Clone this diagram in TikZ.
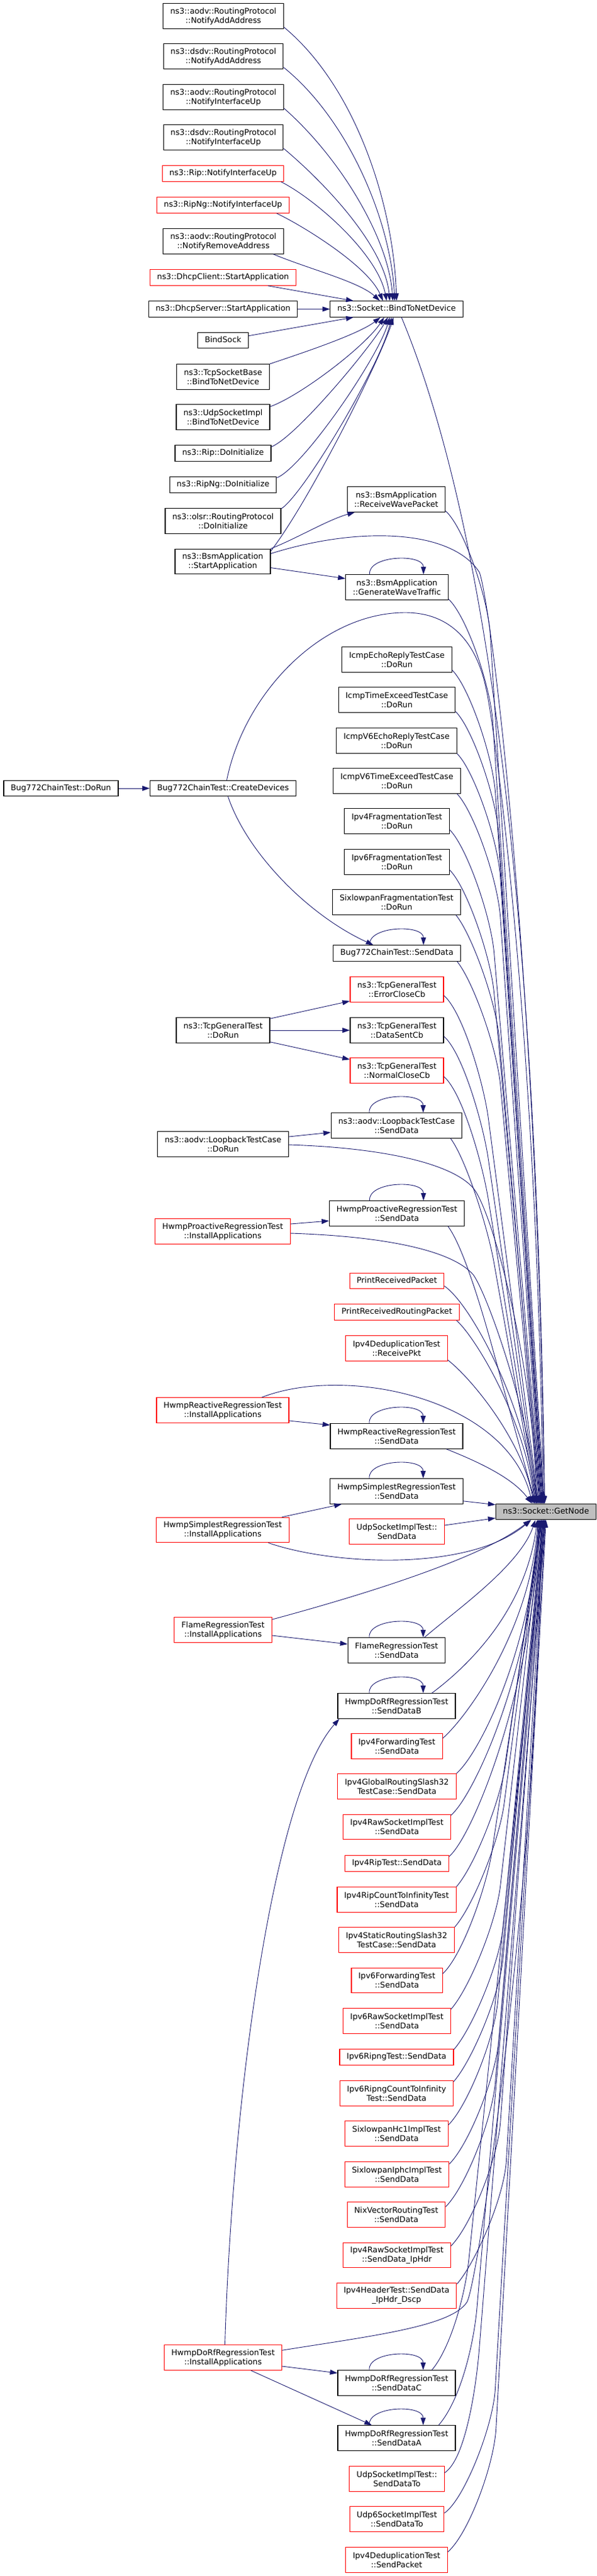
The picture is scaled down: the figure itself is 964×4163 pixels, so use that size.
\documentclass[tikz,border=0pt]{standalone}
\usepackage{fontspec}
\setmainfont{DejaVu Sans}[Ligatures={NoCommon}]
\usetikzlibrary{arrows.meta,calc}
\definecolor{edgeblue}{HTML}{191970}
\definecolor{nodegray}{HTML}{BFBFBF}
\definecolor{nodered}{HTML}{FF0000}
\newcommand\gnfan[4]{%
  \path #1 coordinate (fa) ++#2 coordinate (fb);
  \path #3 coordinate (ft);
  \draw[edge] (fa) .. controls +#4 and ($(fb)!-60pt!(ft)$) .. (fb) -- (ft);}
\newcommand\nodeloop[1]{\draw[edge] ($(#1.north)+(-44,0)$) .. controls +(-3,-31) and +(0,-34) .. ($(#1.north)+(43,0)$);}
\begin{document}
\begin{tikzpicture}[x=1pt,y=-1pt,
  box/.style={draw=black,line width=1.1pt,fill=white,font=\fontsize{12.8}{15}\selectfont,align=center,inner xsep=11.5pt,inner ysep=0pt},
  redbox/.style={box,draw=nodered},
  graybox/.style={box,fill=nodegray},
  oneline/.style={minimum height=25.5pt,text height=9.7pt,text depth=3.1pt},
  twoline/.style={minimum height=40.5pt},
  edge/.style={draw=edgeblue,line width=0.9pt,-{Triangle[length=12pt,width=8pt]}}]
\fill[white] (0,0) rectangle (964,4163);
\useasboundingbox (0,0) rectangle (964,4163);
% ---- nodes
\node[box,twoline] (n1) at (361,26) {ns3::aodv::RoutingProtocol\\::NotifyAddAddress};
\node[box,twoline] (n2) at (361,91) {ns3::dsdv::RoutingProtocol\\::NotifyAddAddress};
\node[box,twoline] (n3) at (361,157) {ns3::aodv::RoutingProtocol\\::NotifyInterfaceUp};
\node[box,twoline] (n4) at (361,222) {ns3::dsdv::RoutingProtocol\\::NotifyInterfaceUp};
\node[redbox,oneline] (n5) at (360.5,280.5) {ns3::Rip::NotifyInterfaceUp};
\node[redbox,oneline] (n6) at (360.5,331.5) {ns3::RipNg::NotifyInterfaceUp};
\node[box,twoline] (n7) at (361,390) {ns3::aodv::RoutingProtocol\\::NotifyRemoveAddress};
\node[redbox,oneline] (n8) at (360.5,448.5) {ns3::DhcpClient::StartApplication};
\node[box,oneline] (n9) at (360.5,499.5) {ns3::DhcpServer::StartApplication};
\node[box,oneline] (btnd) at (641,499.5) {ns3::Socket::BindToNetDevice};
\node[box,oneline] (bindsock) at (360.5,550) {BindSock};
\node[box,twoline] (tcpsb) at (360.5,609) {ns3::TcpSocketBase\\::BindToNetDevice};
\node[box,twoline] (udpsi) at (360.5,674) {ns3::UdpSocketImpl\\::BindToNetDevice};
\node[box,oneline] (ripinit) at (360.5,732.5) {ns3::Rip::DoInitialize};
\node[box,oneline] (ripnginit) at (360.5,783.5) {ns3::RipNg::DoInitialize};
\node[box,twoline] (olsrinit) at (360.5,842) {ns3::olsr::RoutingProtocol\\::DoInitialize};
\node[box,twoline] (bsmstart) at (360,907.5) {ns3::BsmApplication\\::StartApplication};
\node[box,twoline] (bsmrecv) at (640.5,807) {ns3::BsmApplication\\::ReceiveWavePacket};
\node[box,twoline] (bsmgen) at (641.5,949) {ns3::BsmApplication\\::GenerateWaveTraffic};
\node[box,twoline] (icmpecho) at (641.5,1066) {IcmpEchoReplyTestCase\\::DoRun};
\node[box,twoline] (icmptime) at (641.5,1131) {IcmpTimeExceedTestCase\\::DoRun};
\node[box,twoline] (icmpv6echo) at (641,1197) {IcmpV6EchoReplyTestCase\\::DoRun};
\node[box,twoline] (icmpv6time) at (641.5,1262) {IcmpV6TimeExceedTestCase\\::DoRun};
\node[box,twoline] (ipv4frag) at (641.5,1327) {Ipv4FragmentationTest\\::DoRun};
\node[box,twoline] (ipv6frag) at (641.5,1393) {Ipv6FragmentationTest\\::DoRun};
\node[box,oneline] (bugdorun) at (98.5,1274) {Bug772ChainTest::DoRun};
\node[box,oneline] (bugcreate) at (360.5,1274) {Bug772ChainTest::CreateDevices};
\node[box,twoline] (sixfrag) at (641,1458) {SixlowpanFragmentationTest\\::DoRun};
\node[box,oneline] (bugsend) at (641.5,1540.5) {Bug772ChainTest::SendData};
\node[redbox,twoline] (tcperr) at (641.5,1599) {ns3::TcpGeneralTest\\::ErrorCloseCb};
\node[box,twoline] (tcpdorun) at (360.5,1665) {ns3::TcpGeneralTest\\::DoRun};
\node[box,twoline] (tcpsent) at (641.5,1665) {ns3::TcpGeneralTest\\::DataSentCb};
\node[redbox,twoline] (tcpnormal) at (641.5,1730) {ns3::TcpGeneralTest\\::NormalCloseCb};
\node[box,twoline] (loopsend) at (641,1819) {ns3::aodv::LoopbackTestCase\\::SendData};
\node[box,twoline] (loopdorun) at (360.5,1849) {ns3::aodv::LoopbackTestCase\\::DoRun};
\node[box,twoline] (proactsend) at (641.5,1961) {HwmpProactiveRegressionTest\\::SendData};
\node[redbox,twoline] (proactinst) at (360,1990) {HwmpProactiveRegressionTest\\::InstallApplications};
\node[redbox,oneline] (printpkt) at (641.5,2070) {PrintReceivedPacket};
\node[redbox,oneline] (printrpkt) at (641.5,2120.5) {PrintReceivedRoutingPacket};
\node[redbox,twoline] (deduprecv) at (641,2179) {Ipv4DeduplicationTest\\::ReceivePkt};
\node[redbox,twoline] (reactinst) at (360,2279) {HwmpReactiveRegressionTest\\::InstallApplications};
\node[box,twoline] (reactsend) at (641,2321) {HwmpReactiveRegressionTest\\::SendData};
\node[box,twoline] (simplsend) at (641,2410) {HwmpSimplestRegressionTest\\::SendData};
\node[graybox,oneline] (gn) at (882.5,2443) {ns3::Socket::GetNode};
\node[redbox,twoline] (simplinst) at (360,2472.5) {HwmpSimplestRegressionTest\\::InstallApplications};
\node[redbox,twoline] (udpsend) at (641.5,2475) {UdpSocketImplTest::\\SendData};
\node[redbox,twoline] (flameinst) at (360.5,2634) {FlameRegressionTest\\::InstallApplications};
\node[box,twoline] (flamesend) at (641,2667) {FlameRegressionTest\\::SendData};
\node[box,twoline] (dorfb) at (641,2757) {HwmpDoRfRegressionTest\\::SendDataB};
\node[redbox,twoline] (ipv4fwd) at (641.5,2822) {Ipv4ForwardingTest\\::SendData};
\node[redbox,twoline] (ipv4glob) at (641.5,2887) {Ipv4GlobalRoutingSlash32\\TestCase::SendData};
\node[redbox,twoline] (ipv4raw) at (641.5,2952.5) {Ipv4RawSocketImplTest\\::SendData};
\node[redbox,oneline] (ipv4rip) at (641.5,3011.5) {Ipv4RipTest::SendData};
\node[redbox,twoline] (ipv4ripinf) at (641,3070) {Ipv4RipCountToInfinityTest\\::SendData};
\node[redbox,twoline] (ipv4static) at (641,3135) {Ipv4StaticRoutingSlash32\\TestCase::SendData};
\node[redbox,twoline] (ipv6fwd) at (641.5,3200.5) {Ipv6ForwardingTest\\::SendData};
\node[redbox,twoline] (ipv6raw) at (641.5,3266) {Ipv6RawSocketImplTest\\::SendData};
\node[redbox,oneline] (ipv6ripng) at (641,3324.5) {Ipv6RipngTest::SendData};
\node[redbox,twoline] (ipv6ripnginf) at (641,3383) {Ipv6RipngCountToInfinity\\Test::SendData};
\node[redbox,twoline] (sixhc1) at (641,3448) {SixlowpanHc1ImplTest\\::SendData};
\node[redbox,twoline] (sixiphc) at (641.5,3514) {SixlowpanIphcImplTest\\::SendData};
\node[redbox,twoline] (nix) at (640.5,3579) {NixVectorRoutingTest\\::SendData};
\node[redbox,twoline] (ipv4rawhdr) at (641.5,3644.5) {Ipv4RawSocketImplTest\\::SendData\_IpHdr};
\node[redbox,twoline] (ipv4hdr) at (641,3710) {Ipv4HeaderTest::SendData\\\_IpHdr\_Dscp};
\node[redbox,twoline] (dorfinst) at (360.5,3810) {HwmpDoRfRegressionTest\\::InstallApplications};
\node[box,twoline] (dorfc) at (641,3851) {HwmpDoRfRegressionTest\\::SendDataC};
\node[box,twoline] (dorfa) at (641,3940) {HwmpDoRfRegressionTest\\::SendDataA};
\node[redbox,twoline] (udpsendto) at (641.5,4006) {UdpSocketImplTest::\\SendDataTo};
\node[redbox,twoline] (udp6sendto) at (641.5,4071) {Udp6SocketImplTest\\::SendDataTo};
\node[redbox,twoline] (dedupsend) at (641,4137) {Ipv4DeduplicationTest\\::SendPacket};
% ---- edges into BindToNetDevice
\draw[edge] ($(n1.south east)+(0,-3)$) .. controls (575,140) and (636,330) .. (btnd.north);
\draw[edge] ($(n2.south east)+(0,-3)$) .. controls (565,195) and (632,360) .. ($(btnd.north)+(-3,0)$);
\draw[edge] ($(n3.south east)+(0,-3)$) .. controls (550,255) and (628,385) .. ($(btnd.north)+(-6,0)$);
\draw[edge] ($(n4.south east)+(0,-3)$) .. controls (530,300) and (622,400) .. ($(btnd.north)+(-11,0)$);
\draw[edge] ($(n5.south east)+(-5,0)$) .. controls (510,322) and (610,410) .. ($(btnd.north)+(-16,0)$);
\draw[edge] ($(n6.south east)+(-21,0)$) .. controls (490,365) and (595,430) .. ($(btnd.north)+(-22,0)$);
\draw[edge] ($(n7.south east)+(-17,0)$) .. controls (500,435) and (580,455) .. ($(btnd.north)+(-27,0)$);
\draw[edge] ($(n8.south east)+(-46,0)$) -- ($(btnd.north west)+(38,0)$);
\draw[edge] (n9.east) -- (btnd.west);
\draw[edge] ($(bindsock.north east)+(0,6)$) -- ($(btnd.south west)+(38,0)$);
\draw[edge] (tcpsb.north east) .. controls (490,570) and (580,540) .. ($(btnd.south)+(-26,0)$);
\draw[edge] ($(udpsi.north east)+(0,4)$) .. controls (485,640) and (590,560) .. ($(btnd.south)+(-20,0)$);
\draw[edge] ($(ripinit.north east)+(0,3)$) .. controls (480,705) and (600,560) .. ($(btnd.south)+(-14,0)$);
\draw[edge] ($(ripnginit.north east)+(0,2)$) .. controls (490,755) and (610,580) .. ($(btnd.south)+(-11,0)$);
\draw[edge] ($(olsrinit.north east)+(0,1)$) .. controls (490,800) and (615,590) .. ($(btnd.south)+(-8,0)$);
\draw[edge] ($(bsmstart.north east)+(0,4)$) .. controls (500,810) and (615,580) .. ($(btnd.south)+(-5,0)$);
% ---- other direct edges
\draw[edge] (bsmstart.north east) .. controls (480,870) and (530,840) .. ($(bsmrecv.south west)+(13,0)$);
\draw[edge] ($(bsmstart.east)+(0,10)$) -- ($(bsmgen.west)+(0,-14)$);
\draw[edge] (bugdorun.east) -- (bugcreate.west);
\draw[edge] ($(bugcreate.south)+(8,0)$) .. controls (400,1380) and (500,1480) .. ($(bugsend.north)+(-38,0)$);
\draw[edge] ($(tcpdorun.north east)+(0,2)$) -- ($(tcperr.south west)+(0,-2)$);
\draw[edge] (tcpdorun.east) -- (tcpsent.west);
\draw[edge] ($(tcpdorun.south east)+(0,-2)$) -- ($(tcpnormal.north west)+(0,3)$);
\draw[edge] ($(loopdorun.east)+(0,-12)$) -- ($(loopsend.west)+(0,11)$);
\draw[edge] ($(proactinst.east)+(0,-12)$) -- ($(proactsend.west)+(0,12)$);
\draw[edge] ($(reactinst.east)+(0,17)$) -- ($(reactsend.west)+(0,-18)$);
\draw[edge] ($(simplinst.north east)+(-12,0)$) -- ($(simplsend.south west)+(19,0)$);
\draw[edge] ($(flameinst.east)+(0,9)$) -- ($(flamesend.west)+(0,-10)$);
\draw[edge] ($(dorfinst.north)+(3,0)$) .. controls (375,3400) and (440,2900) .. ($(dorfb.south west)+(3,0)$);
\draw[edge] ($(dorfinst.east)+(0,14)$) -- ($(dorfc.west)+(0,-16)$);
\draw[edge] ($(dorfinst.south)+(45,0)$) -- ($(dorfa.north)+(-40,0)$);
% ---- self loops
\nodeloop{bsmgen}
\nodeloop{bugsend}
\nodeloop{loopsend}
\nodeloop{proactsend}
\nodeloop{reactsend}
\nodeloop{simplsend}
\nodeloop{flamesend}
\nodeloop{dorfb}
\nodeloop{dorfc}
\nodeloop{dorfa}
% ---- edges into GetNode from above
\draw[edge] ($(btnd.south)+(8,0)$) .. controls (760,780) and (865,1300) .. ($(gn.north)+(-2,0)$);
\draw[edge] ($(bsmstart.north east)+(0,8)$) .. controls (580,850) and (730,855) .. (775,925) .. controls (795,980) and (870,1600) .. ($(gn.north)+(-3,0)$);
\gnfan{($(bsmrecv.south east)+(0,-2)$)}{(72,200)}{($(gn.north)+(-3,0)$)}{(30,28)}
\gnfan{($(bsmgen.south east)+(0,-2)$)}{(72,200)}{($(gn.north)+(-4,0)$)}{(30,28)}
\draw[edge] ($(bugcreate.north)+(6,0)$) .. controls (395,1120) and (520,990) .. (655,990) .. controls (730,990) and (770,1040) .. (785,1110) .. controls (800,1170) and (870,1700) .. ($(gn.north)+(-5,0)$);
\gnfan{($(icmpecho.south east)+(0,-4)$)}{(70,200)}{($(gn.north)+(-5,0)$)}{(28,28)}
\gnfan{($(icmptime.south east)+(0,-2)$)}{(70,200)}{($(gn.north)+(-6,0)$)}{(28,28)}
\gnfan{(icmpv6echo.south east)}{(70,200)}{($(gn.north)+(-7,0)$)}{(28,28)}
\gnfan{($(icmpv6time.south east)+(-6,0)$)}{(70,200)}{($(gn.north)+(-8,0)$)}{(28,30)}
\gnfan{($(ipv4frag.south east)+(0,-7)$)}{(72,200)}{($(gn.north)+(-8,0)$)}{(28,28)}
\gnfan{($(ipv6frag.south east)+(0,-8)$)}{(72,200)}{($(gn.north)+(-9,0)$)}{(28,28)}
\gnfan{($(sixfrag.south east)+(-8,0)$)}{(70,200)}{($(gn.north)+(-10,0)$)}{(26,32)}
\gnfan{($(bugsend.south east)+(-6,0)$)}{(70,200)}{($(gn.north)+(-11,0)$)}{(26,32)}
\gnfan{($(tcperr.south east)+(0,-11)$)}{(72,200)}{($(gn.north)+(-12,0)$)}{(30,26)}
\gnfan{($(tcpsent.south east)+(0,-11)$)}{(72,200)}{($(gn.north)+(-13,0)$)}{(30,26)}
\gnfan{($(tcpnormal.south east)+(0,-11)$)}{(72,200)}{($(gn.north)+(-14,0)$)}{(30,26)}
\draw[edge] ($(loopdorun.east)+(0,1)$) .. controls (620,1855) and (730,1880) .. (765,1920) .. controls (795,1955) and (862,2200) .. ($(gn.north)+(-15,0)$);
\gnfan{($(loopsend.south east)+(-19,0)$)}{(70,200)}{($(gn.north)+(-15,0)$)}{(24,32)}
\draw[edge] ($(proactinst.east)+(0,3)$) .. controls (620,1998) and (730,2020) .. (765,2060) .. controls (790,2095) and (860,2300) .. ($(gn.north)+(-16,0)$);
\gnfan{($(proactsend.south east)+(-27,0)$)}{(70,190)}{($(gn.north)+(-17,0)$)}{(24,32)}
\draw[edge] ($(printpkt.south east)+(0,-5)$) .. controls +(46,32) and +(-12,-148) .. ($(gn.north)+(-18,0)$);
\draw[edge] ($(printrpkt.south east)+(-5,0)$) .. controls +(35,32) and +(-13,-128) .. ($(gn.north)+(-19,0)$);
\draw[edge] ($(deduprecv.south east)+(0,-2)$) .. controls +(42,33) and +(-17,-98) .. ($(gn.north)+(-20,0)$);
\draw[edge] ($(reactinst.north)+(63,0)$) .. controls (560,2205) and (820,2260) .. ($(gn.north)+(-22,0)$);
\draw[edge] ($(reactsend.south east)+(-27,0)$) .. controls (780,2365) and (830,2390) .. ($(gn.north)+(-23,0)$);
\draw[edge] ($(simplsend.south east)+(0,-5)$) -- ($(gn.north west)+(0,2)$);
% ---- edges into GetNode from below
\draw[edge] ($(simplinst.south east)+(-34,0)$) .. controls (540,2530) and (760,2540) .. ($(gn.south)+(-24,0)$);
\draw[edge] ($(udpsend.east)+(0,-10)$) -- ($(gn.south west)+(0,-3)$);
\draw[edge] ($(flameinst.north east)+(0,4)$) .. controls (540,2590) and (770,2525) .. ($(gn.south)+(-25,0)$);
\draw[edge] ($(flamesend.north)+(45,0)$) .. controls (740,2600) and (840,2530) .. ($(gn.south)+(-17,0)$);
\draw[edge] ($(dorfb.north)+(57,0)$) .. controls (760,2690) and (850,2600) .. ($(gn.south)+(-14,0)$);
\draw[edge] ($(ipv4fwd.north east)+(0,8)$) .. controls +(40,-35) and +(-12,176) .. ($(gn.south)+(-13,0)$);
\draw[edge] (ipv4glob.north east) .. controls +(40,-35) and +(-12,205) .. ($(gn.south)+(-12,0)$);
\draw[edge] ($(ipv4raw.north east)+(0,2)$) .. controls +(40,-35) and +(-12,238) .. ($(gn.south)+(-11,0)$);
\draw[edge] ($(ipv4rip.north east)+(0,2)$) .. controls +(40,-35) and +(-12,272) .. ($(gn.south)+(-10,0)$);
\gnfan{(ipv4ripinf.north east)}{(80,-200)}{($(gn.south)+(-9,0)$)}{(30,-34)}
\gnfan{(ipv4static.north east)}{(80,-200)}{($(gn.south)+(-8,0)$)}{(30,-34)}
\gnfan{($(ipv6fwd.north east)+(0,10)$)}{(80,-200)}{($(gn.south)+(-7,0)$)}{(32,-30)}
\gnfan{($(ipv6raw.north east)+(0,2)$)}{(80,-200)}{($(gn.south)+(-7,0)$)}{(30,-34)}
\gnfan{($(ipv6ripng.north east)+(0,1)$)}{(80,-200)}{($(gn.south)+(-6,0)$)}{(30,-34)}
\gnfan{($(ipv6ripnginf.north east)+(0,2)$)}{(80,-200)}{($(gn.south)+(-5,0)$)}{(30,-34)}
\gnfan{($(sixhc1.north east)+(0,7)$)}{(80,-200)}{($(gn.south)+(-5,0)$)}{(32,-32)}
\gnfan{($(sixiphc.north east)+(0,4)$)}{(80,-200)}{($(gn.south)+(-4,0)$)}{(32,-32)}
\gnfan{($(nix.north east)+(0,8)$)}{(80,-200)}{($(gn.south)+(-4,0)$)}{(32,-32)}
\gnfan{($(ipv4rawhdr.north east)+(0,6)$)}{(80,-200)}{($(gn.south)+(-3,0)$)}{(32,-32)}
\gnfan{($(ipv4hdr.north east)+(0,2)$)}{(80,-200)}{($(gn.south)+(-3,0)$)}{(30,-34)}
\draw[edge] ($(dorfinst.north east)+(0,9)$) .. controls (600,3775) and (730,3760) .. (755,3720) .. controls (775,3680) and (872,3000) .. ($(gn.south)+(-8,0)$);
\gnfan{($(dorfc.north)+(57,0)$)}{(60,-180)}{($(gn.south)+(-2,0)$)}{(30,-35)}
\gnfan{($(dorfa.north)+(68,0)$)}{(62,-190)}{($(gn.south)+(-2,0)$)}{(35,-40)}
\gnfan{($(udpsendto.north east)+(0,11)$)}{(56,-200)}{($(gn.south)+(-1,0)$)}{(34,-22)}
\gnfan{($(udp6sendto.north east)+(0,11)$)}{(82,-200)}{($(gn.south)+(-1,0)$)}{(32,-22)}
\gnfan{($(dedupsend.north east)+(0,8)$)}{(78,-200)}{(gn.south)}{(34,-30)}
\end{tikzpicture}
\end{document}
